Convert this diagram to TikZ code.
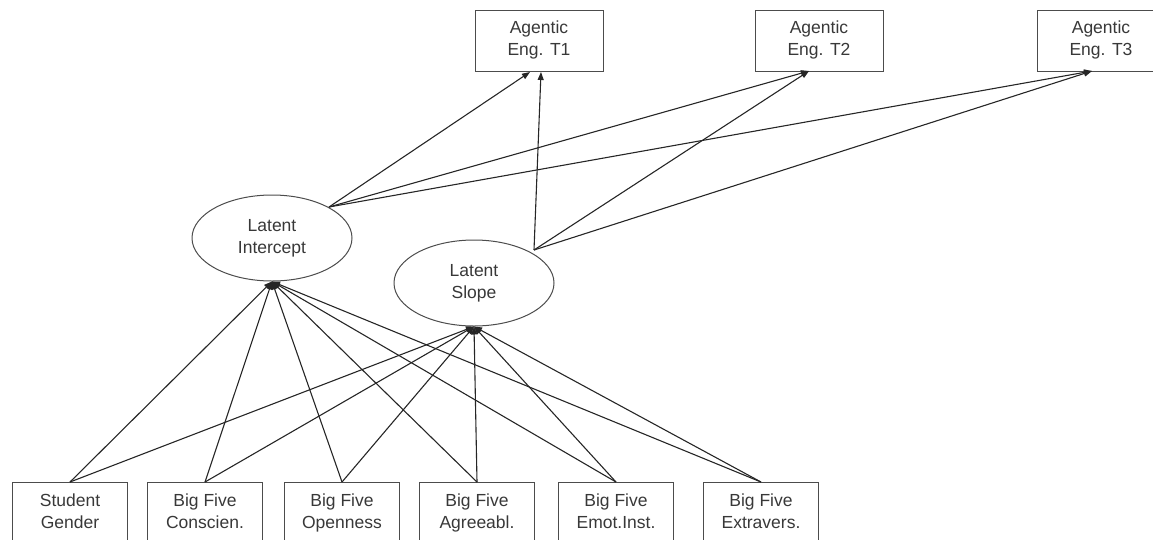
\documentclass[tikz,border=0pt]{standalone}
\usepackage{fontspec}
\setmainfont{Liberation Sans}
\usetikzlibrary{arrows.meta,shapes.geometric}
\newcommand{\twoline}[2]{\strut #1\\\strut #2}
\begin{document}
\begin{tikzpicture}[x=1pt,y=-1pt,
  txt/.style={font=\fontsize{17.5}{22}\selectfont,text=black!78},
  box/.style={txt,draw=black!70,line width=1pt,minimum width=128pt,minimum height=61pt,align=center,inner sep=0pt},
  bbox/.style={box,minimum width=115pt},
  lat/.style={txt,draw=black!70,line width=1pt,ellipse,minimum width=160pt,minimum height=86pt,align=center,inner sep=0pt},
  arr/.style={line width=1.1pt,draw=black!85,-{Triangle[length=8pt,width=6pt]}}]
\useasboundingbox (0,0) rectangle (1153,539);
\node[box] (T1) at (539,40.5) {\twoline{Agentic}{Eng. T1}};
\node[box] (T2) at (819,40.5) {\twoline{Agentic}{Eng. T2}};
\node[box] (T3) at (1101,40.5) {\twoline{Agentic}{Eng. T3}};
\node[lat] (I) at (272,238) {\twoline{Latent}{Intercept}};
\node[lat] (S) at (474,283) {\twoline{Latent}{Slope}};
\node[bbox] (G) at (70,513) {\twoline{Student}{Gender}};
\node[bbox] (C) at (205,513) {\twoline{Big Five}{Conscien.}};
\node[bbox] (O) at (342,513) {\twoline{Big Five}{Openness}};
\node[bbox] (A) at (477,513) {\twoline{Big Five}{Agreeabl.}};
\node[bbox] (E) at (616,513) {\twoline{Big Five}{Emot.Inst.}};
\node[bbox] (X) at (761,513) {\twoline{Big Five}{Extravers.}};
\coordinate (Io) at (329,207);
\coordinate (So) at (534,250);
\coordinate (T1a) at (530,72);
\coordinate (T1b) at (541,72);
\coordinate (T2a) at (809,71);
\coordinate (T3a) at (1092,71);
\foreach \n in {T1a,T2a,T3a} \draw[arr] (Io) -- (\n);
\foreach \n in {T1b,T2a,T3a} \draw[arr] (So) -- (\n);
\foreach \b in {G,C,O,A,E,X} {
  \draw[arr] (\b.north) -- (I.south);
  \draw[arr] (\b.north) -- (S.south);
}
\end{tikzpicture}
\end{document}
